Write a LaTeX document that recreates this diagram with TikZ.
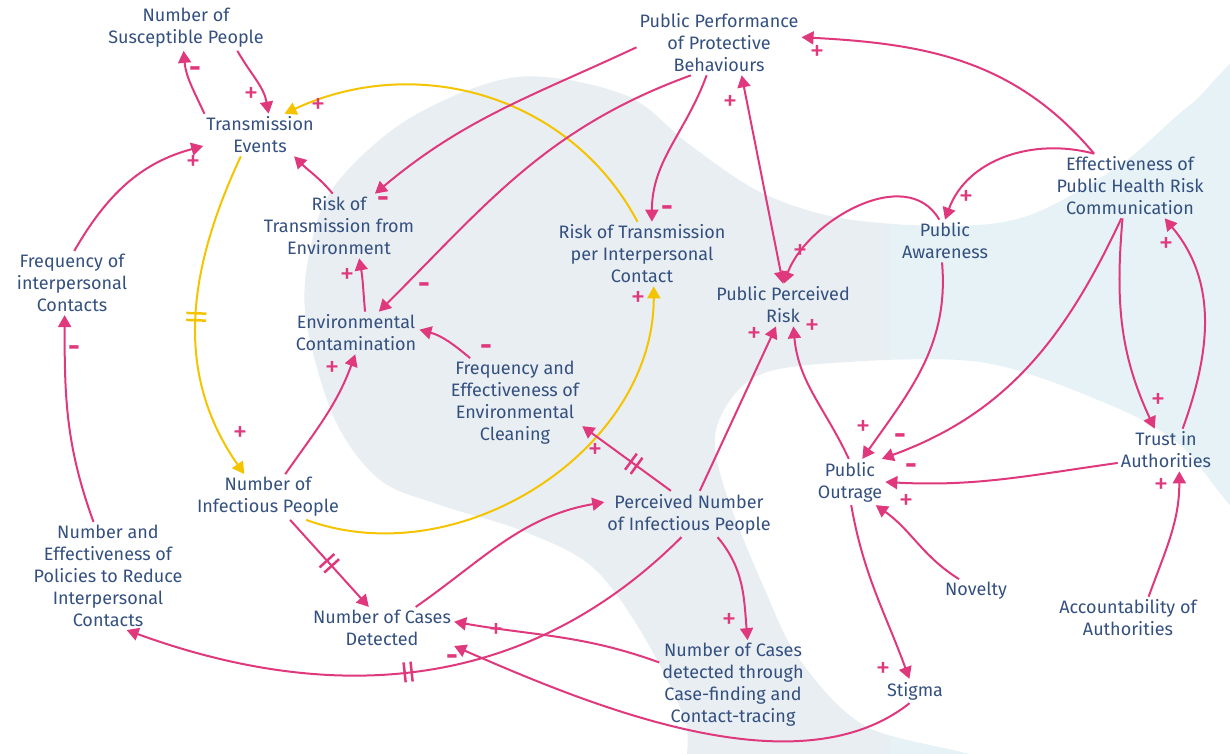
\documentclass[tikz,border=0pt]{standalone}
\usepackage{fontspec}
\setmainfont{Fira Sans}
\usetikzlibrary{arrows.meta,decorations.markings}

\definecolor{cldpink}{HTML}{E0387D}
\definecolor{cldyellow}{HTML}{F5C400}
\definecolor{cldtext}{HTML}{34507F}
\definecolor{blobgray}{HTML}{E9EEF3}
\definecolor{blobcyan}{HTML}{E6F2F6}

\tikzset{
  var/.style={text=cldtext, align=center, inner sep=3pt, font=\fontsize{18}{22}\selectfont},
  sgn/.style={text=cldpink, inner sep=0pt, text height=9pt, text depth=0pt, font=\fontsize{29}{29}\selectfont},
  lnk/.style={draw=cldpink, line width=2pt, -{Triangle[length=12pt,width=13pt]}},
  ylnk/.style={lnk, draw=cldyellow},
  delay/.style 2 args={postaction={decorate, decoration={markings,
    mark=at position #1 with {\draw[#2, line width=2.5pt, -] (-3.5pt,-10pt) -- (-3.5pt,10pt) (3.5pt,-10pt) -- (3.5pt,10pt);}}}}
}
\newcommand{\negsign}{\textbf{-}}

\begin{document}
\begin{tikzpicture}[x=1pt,y=1pt]
  \useasboundingbox (0,0) rectangle (1230,-753);
  % background
  \begin{scope}
    \clip plot[smooth cycle, tension=0.55] coordinates {
      (306,-320) (310,-250) (335,-185) (410,-118) (517,-77) (625,-95) (690,-145)
      (760,-192) (840,-218) (950,-226) (1030,-215) (1120,-165) (1190,-105) (1260,-60)
      (1270,-300) (1260,-520) (1180,-445) (1110,-405) (980,-362) (820,-364) (750,-380)
      (716,-430) (725,-490) (765,-590) (800,-660) (867,-727) (990,-765) (850,-810)
      (700,-800) (685,-720) (640,-630) (590,-565) (520,-530) (440,-505) (380,-480) (335,-420)};
    \fill[blobgray] (0,0) rectangle (890,-830);
    \fill[blobcyan] (890,0) rectangle (1300,-830);
  \end{scope}

  % variables
  \node[var] (sus) at (186,-28) {Number of\\Susceptible People};
  \node[var] (trans) at (260,-135) {Transmission\\Events};
  \node[var] (freq) at (72,-283) {Frequency of\\interpersonal\\Contacts};
  \node[var] (riskenv) at (339,-226) {Risk of\\Transmission from\\Environment};
  \node[var] (envcont) at (356,-333) {Environmental\\Contamination};
  \node[var] (clean) at (515,-403) {Frequency and\\Effectiveness of\\Environmental\\Cleaning};
  \node[var] (riskint) at (642,-254) {Risk of Transmission\\per Interpersonal\\Contact};
  \node[var] (ppb) at (719,-43) {Public Performance\\of Protective\\Behaviours};
  \node[var] (prisk) at (783,-305) {Public Perceived\\Risk};
  \node[var] (aware) at (945,-241) {Public\\Awareness};
  \node[var] (effcomm) at (1130,-186) {Effectiveness of\\Public Health Risk\\Communication};
  \node[var] (trust) at (1166,-450) {Trust in\\Authorities};
  \node[var] (outrage) at (850,-482) {Public\\Outrage};
  \node[var] (novelty) at (976,-591) {Novelty};
  \node[var] (account) at (1128,-618) {Accountability of\\Authorities};
  \node[var] (stigma) at (915,-691) {Stigma};
  \node[var] (infect) at (268,-497) {Number of\\Infectious People};
  \node[var] (policies) at (108,-576) {Number and\\Effectiveness of\\Policies to Reduce\\Interpersonal\\Contacts};
  \node[var] (cases) at (382,-628) {Number of Cases\\Detected};
  \node[var] (pinf) at (689,-514) {Perceived Number\\of Infectious People};
  \node[var] (casesct) at (733,-685) {Number of Cases\\detected through\\Case-finding and\\Contact-tracing};

  % links
  \draw[lnk] (trans.159) to[out=115,in=-85] (sus.264);
  \draw[lnk] (sus.-24) to[out=-60,in=100] (trans.68);
  \draw[ylnk] (riskint.98) to[out=118,in=25] (trans.41);
  \draw[lnk] (freq.86) to[out=60,in=195] (trans.191);
  \draw[ylnk,delay={0.5}{cldyellow}] (trans.228) to[out=-115,in=125] (infect.136);
  \draw[lnk] (riskenv.101) to[out=130,in=-45] (trans.-32);
  \draw[lnk] (ppb.183) to[out=205,in=40] (riskenv.42);
  \draw[lnk] (ppb.229) to[out=200,in=45] (envcont.43);
  \draw[lnk] (envcont.67) to[out=95,in=-80] (riskenv.-58);
  \draw[lnk] (clean.135) to[out=140,in=-15] (envcont.3);
  \draw[lnk] (infect.53) to[out=55,in=-110] (envcont.-92);
  \draw[ylnk] (infect.-31) to[out=-20,in=-90] (riskint.-70);
  \draw[lnk] (ppb.249) to[out=-110,in=90] (riskint.73);
  \draw[lnk,{Triangle[length=12pt,width=13pt]}-{Triangle[length=12pt,width=13pt]}] (ppb.-55) -- (prisk.90);
  \draw[lnk] (aware.105) to[out=120,in=70] (prisk.88);
  \draw[lnk] (effcomm.138) to[out=130,in=-3] (ppb.4);
  \draw[lnk] (effcomm.138) to[out=165,in=70] (aware.90);
  \draw[lnk] (effcomm.257) to[out=-95,in=115] (trust.118);
  \draw[lnk] (trust.52) to[out=70,in=-50] (effcomm.-43);
  \draw[lnk] (effcomm.255) to[out=-115,in=20] (outrage.36);
  \draw[lnk] (aware.262) to[out=-85,in=55] (outrage.62);
  \draw[lnk] (trust.195) to[out=188,in=-3] (outrage.0);
  \draw[lnk] (account.46) to[out=70,in=-90] (trust.-58);
  \draw[lnk] (novelty.145) to[out=148,in=-35] (outrage.-42);
  \draw[lnk] (outrage.-87) to[out=-80,in=110] (stigma.115);
  \draw[lnk] (outrage.93) to[out=115,in=-85] (prisk.-64);
  \draw[lnk] (pinf.65) -- (prisk.252);
  \draw[lnk,delay={0.42}{cldpink}] (pinf.128) -- (clean.-19);
  \draw[lnk,delay={0.5}{cldpink}] (infect.-46) -- (cases.122);
  \draw[lnk] (cases.32) to[out=35,in=190] (pinf.172);
  \draw[lnk,delay={0.52}{cldpink}] (pinf.252) to[out=-135,in=-20] (policies.-71);
  \draw[lnk] (policies.105) to[out=110,in=-90] (freq.257);
  \draw[lnk] (casesct.163) to[out=160,in=-10] (cases.5);
  \draw[lnk] (stigma.246) .. controls (800,-790) and (600,-710) .. (cases.-14);
  \draw[lnk] (pinf.-39) to[out=-50,in=95] (casesct.72);

  % polarity signs
  \foreach \p/\s [count=\i] in {
    {(195,-73)}/\negsign, {(251,-98)}/+, {(318,-109)}/+, {(193,-166)}/+, {(240,-437)}/+,
    {(383,-203)}/\negsign, {(424,-289)}/\negsign, {(347,-279)}/+, {(486,-351)}/\negsign, {(332,-372)}/+,
    {(638,-302)}/+, {(667,-212)}/\negsign, {(730,-106)}/+, {(800,-255)}/+, {(817,-56)}/+,
    {(966,-201)}/+, {(1158,-404)}/+, {(1166,-248)}/+, {(900,-440)}/\negsign, {(863,-431)}/+,
    {(911,-470)}/\negsign, {(1161,-489)}/+, {(906,-505)}/+, {(883,-673)}/+, {(812,-330)}/+,
    {(754,-338)}/+, {(595,-454)}/+, {(74,-352)}/\negsign, {(496,-634)}/+, {(452,-661)}/\negsign,
    {(729,-624)}/+}
    \node[sgn] (sign\i) at \p {\s};
\end{tikzpicture}
\end{document}
